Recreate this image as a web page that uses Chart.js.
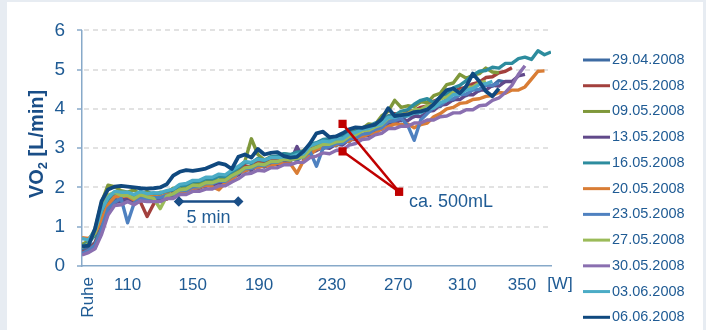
<!DOCTYPE html>
<html>
<head>
<meta charset="utf-8">
<script src="https://cdn.jsdelivr.net/npm/chart.js@4.4.0/dist/chart.umd.min.js"></script>
<style>
  html, body { margin: 0; padding: 0; background: #e7ecf2; }
  #panel { position: absolute; left: 7px; top: 2px; width: 696px; height: 328px; background: #fff; }
  canvas { display: block; }
</style>
</head>
<body>
<div id="panel"><canvas id="vo2Chart" width="696" height="328"></canvas></div>
<script>
// sampling times (min)
const timeMin = [
  0, 0.55, 1.1, 1.65, 2.2, 2.75, 3.3, 3.85, 4.4, 4.95,
  5.5, 6.05, 6.6, 7.15, 7.7, 8.25, 8.8, 9.35, 9.9, 10.45,
  11, 11.55, 12.1, 12.65, 13.2, 13.75, 14.3, 14.85, 15.4, 15.95,
  16.5, 17.05, 17.6, 18.15, 18.7, 19.25, 19.8, 20.35, 20.9, 21.45,
  22, 22.55, 23.1, 23.65, 24.2, 24.75, 25.3, 25.85, 26.4, 26.95,
  27.5, 28.05, 28.6, 29.15, 29.7, 30.25, 30.8, 31.35, 31.9, 32.45,
  33, 33.55, 34.1, 34.65, 35.2, 35.75, 36.3, 36.85, 37.4, 37.95,
  38.5, 39.05, 39.6
];

const seriesLabels = ['29.04.2008', '02.05.2008', '09.05.2008', '13.05.2008', '16.05.2008', '20.05.2008',
  '23.05.2008', '27.05.2008', '30.05.2008', '03.06.2008', '06.06.2008'];
const seriesColors = ['#3d6ba3', '#a3403d', '#7f983b', '#61498a', '#2d8c9e', '#d97d35',
  '#4f81c0', '#9bbb59', '#8a6fb0', '#4bacc6', '#10497f'];

// VO2 in L/min
const v2904 = [0.40,0.46,0.60,1.02,1.48,1.70,1.66,1.74,1.62,1.72, 1.80,1.70,1.78,1.72,1.88,1.84,1.98,1.94,2.10,2.02,
  2.14,2.08,2.20,2.26,2.44,2.40,2.56,2.50,2.62,2.56, 2.70,2.62,2.76,2.68,2.84,2.90,3.04,2.98,3.12,3.06,
  3.22,3.16,3.36,3.30,3.46,3.42,3.60,3.66,3.78,3.70, 3.86,3.80,3.96,3.92,4.10,4.06,4.26,4.22,4.38,4.34,
  4.52,4.46,4.64,4.58,4.72,4.68];
const v0205 = [0.35,0.40,0.58,0.96,1.44,1.60,1.72,1.66,1.74,1.62, 1.26,1.58,1.76,1.70,1.86,1.82,1.94,2.02,1.98,2.12,
  2.06,2.18,2.16,2.34,2.40,2.56,2.50,2.66,2.62,2.72, 2.70,2.80,2.74,2.82,2.88,3.02,3.06,3.14,3.10,3.22,
  3.18,3.32,3.36,3.46,3.44,3.56,3.64,3.82,3.88,3.84, 3.94,3.96,4.04,4.08,4.20,4.26,4.38,4.42,4.52,4.54,
  4.64,4.68,4.80,4.82,4.92,4.96,5.05];
const v0905 = [0.55,0.64,0.94,1.62,2.06,2.02,1.92,1.88,1.94,1.82, 1.90,1.80,1.88,1.86,1.98,1.94,2.06,2.08,2.12,2.14,
  2.22,2.18,2.28,2.30,2.50,2.66,3.24,2.84,2.70,2.78, 2.76,2.86,2.82,2.88,2.94,3.06,3.10,3.18,3.20,3.28,
  3.32,3.38,3.50,3.50,3.62,3.60,3.82,3.94,4.22,4.04, 4.08,4.06,4.18,4.16,4.34,4.40,4.62,4.66,4.88,4.78,
  4.86,4.90,5.04,4.94,4.92];
const v1305 = [0.30,0.36,0.46,0.88,1.38,1.62,1.64,1.72,1.64,1.74, 1.70,1.74,1.70,1.78,1.80,1.90,1.88,2.00,1.98,2.06,
  2.04,2.14,2.12,2.24,2.32,2.46,2.44,2.56,2.52,2.60, 2.58,2.68,2.66,3.04,2.72,2.88,2.94,3.02,3.00,3.10,
  3.08,3.22,3.22,3.32,3.32,3.44,3.48,3.64,3.64,3.72, 3.70,3.82,3.80,3.94,3.96,4.10,4.12,4.24,4.24,4.36,
  4.36,4.48,4.48,4.60,4.58,4.70,4.70,4.84,4.88];
const v1605 = [0.50,0.60,0.78,1.32,1.68,1.84,1.84,1.86,1.78,1.86, 1.84,1.86,1.84,1.90,1.94,2.04,2.06,2.14,2.16,2.22,
  2.22,2.28,2.28,2.40,2.50,2.64,2.62,2.74,2.68,2.78, 2.80,2.86,2.84,2.90,2.92,3.10,3.14,3.22,3.24,3.30,
  3.28,3.40,3.42,3.52,3.54,3.64,3.68,3.82,3.84,3.94, 3.98,4.12,4.22,4.26,4.16,4.30,4.38,4.54,4.60,4.72,
  4.86,4.96,4.98,5.06,5.04,5.16,5.16,5.28,5.32,5.26, 5.48,5.38,5.45];
const v2005 = [0.72,0.70,0.84,1.18,1.56,1.76,1.78,1.78,1.68,1.80, 1.78,1.76,1.76,1.82,1.82,1.90,1.90,1.98,2.00,2.06,
  2.02,1.94,2.12,2.18,2.38,2.42,2.50,2.50,2.56,2.54, 2.62,2.60,2.60,2.36,2.68,2.82,2.98,3.00,3.08,3.08,
  3.16,3.18,3.28,3.28,3.36,3.38,3.50,3.54,3.62,3.60, 3.62,3.52,3.60,3.64,3.80,3.88,4.00,4.04,4.14,4.16,
  4.24,4.26,4.32,4.34,4.42,4.40,4.48,4.48,4.56,4.76, 4.96,4.97];
const v2305 = [0.32,0.40,0.54,0.96,1.46,1.62,1.72,1.10,1.60,1.72, 1.72,1.74,1.74,1.80,1.82,1.92,1.92,2.02,2.02,2.10,
  2.10,2.16,2.16,2.28,2.36,2.48,2.48,2.58,2.56,2.64, 2.64,2.72,2.70,2.76,2.76,2.92,2.54,3.00,3.04,3.12,
  3.12,3.24,3.26,3.36,3.38,3.48,3.52,3.68,3.70,3.76, 3.58,3.20,3.72,3.88,4.04,4.10,4.22,4.26,4.36,4.38,
  4.48,4.50,4.60,4.60,4.66];
const v2705 = [0.48,0.56,0.86,1.46,1.80,1.88,1.80,1.80,1.72,1.82, 1.76,1.72,1.46,1.78,1.84,1.94,1.96,2.06,2.04,2.12,
  2.12,2.18,2.18,2.30,2.38,2.50,2.52,2.60,2.58,2.66, 2.66,2.72,2.70,2.74,2.78,2.96,3.02,3.10,3.10,3.16,
  3.18,3.30,3.34,3.44,3.46,3.54,3.60,3.76,3.80,3.86, 3.88,3.98,3.98,4.08,4.12,4.26,4.30,4.42,4.44,4.54,
  4.56,4.66,4.70];
const v3005 = [0.28,0.34,0.44,0.80,1.30,1.54,1.56,1.64,1.56,1.66, 1.64,1.64,1.64,1.72,1.72,1.82,1.82,1.90,1.90,1.96,
  1.96,2.04,2.04,2.14,2.22,2.34,2.36,2.44,2.42,2.50, 2.50,2.58,2.58,2.64,2.64,2.76,2.80,2.88,2.86,2.94,
  2.96,3.08,3.12,3.22,3.24,3.34,3.38,3.50,3.50,3.56, 3.56,3.64,3.64,3.72,3.72,3.80,3.82,3.90,3.90,3.98,
  3.98,4.08,4.10,4.22,4.28,4.42,4.60,4.88,5.10];
const v0306 = [0.70,0.66,0.92,1.42,1.74,1.90,1.88,1.88,1.82,1.90, 1.84,1.86,1.86,1.92,1.96,2.08,2.10,2.18,2.18,2.26,
  2.26,2.34,2.32,2.44,2.54,2.66,2.64,2.72,2.70,2.76, 2.76,2.78,2.78,2.84,2.86,3.06,3.12,3.18,3.16,3.24,
  3.24,3.36,3.40,3.48,3.50,3.58,3.62,3.78,3.78,3.84, 3.82,3.90,3.90,4.00,4.02,4.16,4.22,4.36,4.38,4.48,
  4.52,4.62,4.64,4.70];
const v0606 = [0.50,0.52,0.95,1.65,1.95,2.02,2.04,2.02,2.00,1.98, 1.97,1.98,2.00,2.08,2.30,2.40,2.44,2.42,2.45,2.48,
  2.55,2.62,2.58,2.47,2.78,2.84,2.76,2.98,2.84,2.88, 2.90,2.80,2.76,2.78,2.92,3.12,3.38,3.42,3.28,3.30,
  3.38,3.48,3.53,3.52,3.56,3.60,3.74,4.02,3.82,3.84, 3.86,3.92,3.94,3.98,4.12,4.30,4.48,4.52,4.40,4.58,
  4.90,4.70,4.45,4.32,4.52];
const seriesValues = [v2904, v0205, v0905, v1305, v1605, v2005, v2305, v2705, v3005, v0306, v0606];

// axes
const yTicks = [0, 1, 2, 3, 4, 5, 6];
const xTickMin = [3.85, 9.35, 14.95, 21.1, 26.7, 32.1, 37.15];
const xTickLabels = ['110', '150', '190', '230', '270', '310', '350'];
const restLabel = 'Ruhe';
const restMin = 0.5;
const unitLabel = '[W]';
const unitMin = 40.35;

// annotations
const scaleBarMin = [8.19, 13.19];
const scaleBarVO2 = [1.64, 1.64];
const diffMin = [22.0, 26.77];
const diffUpperVO2 = [3.62, 1.89];
const diffLowerVO2 = [2.92, 1.89];

const TEXT = '#1f5b94';
const TITLE = '#1a4e87';
const AXIS = '#87a9c9';
const GRID = '#d9d9d9';
const RED = '#c00000';
const FONT = "'Liberation Sans', Arial, sans-serif";

const toPoints = (xs, ys) => ys.map((y, i) => ({ x: xs[i], y }));

const datasets = seriesValues.map((vals, i) => ({
  label: seriesLabels[i],
  data: toPoints(timeMin, vals),
  borderColor: seriesColors[i],
  borderWidth: i === seriesValues.length - 1 ? 3.8 : 3.4,
  borderJoinStyle: 'round',
  pointRadius: 0,
  tension: 0,
  order: seriesValues.length - i
}));

datasets.push(
  { label: '_diffUpper', data: toPoints(diffMin, diffUpperVO2), borderColor: RED, backgroundColor: RED,
    borderWidth: 2.5, pointStyle: 'rect', pointRadius: 4, order: 0 },
  { label: '_diffLower', data: toPoints(diffMin, diffLowerVO2), borderColor: RED, backgroundColor: RED,
    borderWidth: 2.5, pointStyle: 'rect', pointRadius: 4, order: 0 },
  { label: '_scaleBar', data: toPoints(scaleBarMin, scaleBarVO2), borderColor: TITLE, backgroundColor: TITLE,
    borderWidth: 2.5, pointStyle: 'rectRot', pointRadius: 3.5, order: 0 }
);

const gridPlugin = {
  id: 'dashedGrid',
  beforeDatasetsDraw(chart) {
    const { ctx, chartArea: a, scales: { y } } = chart;
    ctx.save();
    ctx.strokeStyle = GRID;
    ctx.lineWidth = 1.5;
    ctx.setLineDash([5, 4]);
    yTicks.forEach(v => {
      if (v === 0) return;
      const py = Math.round(y.getPixelForValue(v));
      ctx.beginPath();
      ctx.moveTo(a.left + 2, py);
      ctx.lineTo(a.right, py);
      ctx.stroke();
    });
    ctx.setLineDash([]);
    ctx.strokeStyle = AXIS;
    yTicks.forEach(v => {
      const py = Math.round(y.getPixelForValue(v));
      ctx.beginPath();
      ctx.moveTo(a.left - 5, py);
      ctx.lineTo(a.left, py);
      ctx.stroke();
    });
    ctx.restore();
  }
};

const textPlugin = {
  id: 'labels',
  afterDraw(chart) {
    const { ctx, scales: { x, y } } = chart;
    ctx.save();
    ctx.fillStyle = TEXT;

    ctx.font = `18px ${FONT}`;
    ctx.textAlign = 'center';
    ctx.textBaseline = 'middle';
    ctx.fillText('5 min', x.getPixelForValue((scaleBarMin[0] + scaleBarMin[1]) / 2), y.getPixelForValue(1.21));
    ctx.textAlign = 'left';
    ctx.fillText('ca. 500mL', x.getPixelForValue(27.6), y.getPixelForValue(1.62));

    ctx.font = `17px ${FONT}`;
    ctx.textAlign = 'center';
    ctx.fillText(unitLabel, x.getPixelForValue(unitMin), 282.5);

    ctx.save();
    ctx.translate(x.getPixelForValue(restMin), 275);
    ctx.rotate(-Math.PI / 2);
    ctx.textAlign = 'right';
    ctx.fillText(restLabel, 0, 0);
    ctx.restore();

    // y title: VO2 [L/min]
    ctx.save();
    ctx.fillStyle = TITLE;
    ctx.translate(35.5, 142);
    ctx.rotate(-Math.PI / 2);
    ctx.textAlign = 'left';
    ctx.textBaseline = 'alphabetic';
    const big = `bold 20px ${FONT}`;
    const small = `bold 13px ${FONT}`;
    ctx.font = big;
    const w1 = ctx.measureText('VO').width;
    const w3 = ctx.measureText(' [L/min]').width;
    ctx.font = small;
    const w2 = ctx.measureText('2').width;
    let cx = -(w1 + w2 + w3) / 2;
    ctx.font = big;
    ctx.fillText('VO', cx, 0);
    ctx.font = small;
    ctx.fillText('2', cx + w1, 4);
    ctx.font = big;
    ctx.fillText(' [L/min]', cx + w1 + w2, 0);
    ctx.restore();

    // legend
    ctx.font = `14.5px ${FONT}`;
    ctx.textAlign = 'left';
    ctx.textBaseline = 'middle';
    ctx.lineWidth = 3;
    seriesLabels.forEach((lab, i) => {
      const ly = 58 + i * 25.73;
      ctx.strokeStyle = seriesColors[i];
      ctx.beginPath();
      ctx.moveTo(576, ly);
      ctx.lineTo(603, ly);
      ctx.stroke();
      ctx.fillStyle = TEXT;
      ctx.fillText(lab, 605, ly);
    });
    ctx.restore();
  }
};

new Chart(document.getElementById('vo2Chart'), {
  type: 'line',
  data: { datasets },
  options: {
    responsive: false,
    animation: false,
    layout: { padding: { left: 0, right: 152, top: 19, bottom: 0 } },
    plugins: { legend: { display: false }, tooltip: { enabled: false } },
    scales: {
      x: {
        type: 'linear',
        min: 0,
        max: 39.6,
        afterFit: s => { s.height = 64; },
        afterBuildTicks: s => { s.ticks = xTickMin.map(v => ({ value: v })); },
        grid: { display: false, drawTicks: false },
        border: { display: true, color: AXIS, width: 1.5 },
        ticks: {
          autoSkip: false, maxRotation: 0, minRotation: 0, padding: 9,
          color: TEXT, font: { family: FONT, size: 17 },
          callback: (v, i) => xTickLabels[i]
        }
      },
      y: {
        min: 0,
        max: 6,
        afterFit: s => { s.width = 75; },
        afterBuildTicks: s => { s.ticks = yTicks.map(v => ({ value: v })); },
        grid: { display: false, drawTicks: false },
        border: { display: true, color: AXIS, width: 1.5 },
        ticks: { padding: 17, color: TEXT, font: { family: FONT, size: 19 } }
      }
    }
  },
  plugins: [gridPlugin, textPlugin]
});
</script>
</body>
</html>
